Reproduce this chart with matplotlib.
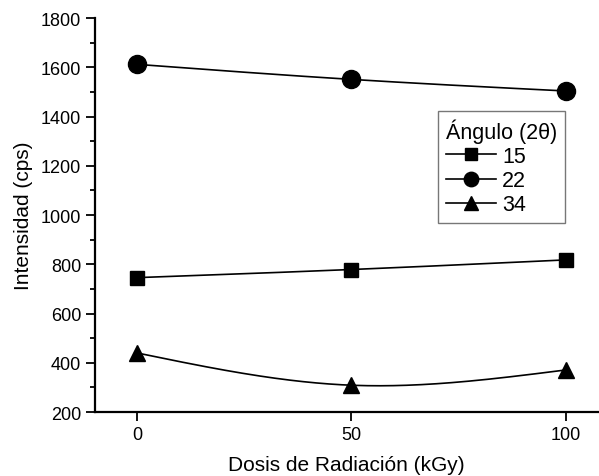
import numpy as np
import matplotlib
matplotlib.use("Agg")
import matplotlib.pyplot as plt
from matplotlib.ticker import MultipleLocator

plt.rcParams["font.family"] = ["Liberation Sans", "DejaVu Sans"]

dose = [0, 50, 100]
i15 = [746, 779, 818]
i22 = [1612, 1551, 1504]
i34 = [440, 309, 371]
series = [("15", i15, "s", 10), ("22", i22, "o", 13), ("34", i34, "^", 12)]


def natural_spline(x, y, n=200):
    # natural cubic spline, as the plotting software connects the points
    x = np.asarray(x, float)
    y = np.asarray(y, float)
    h = np.diff(x)
    k = len(x)
    A = np.zeros((k, k))
    r = np.zeros(k)
    A[0, 0] = A[-1, -1] = 1
    for i in range(1, k - 1):
        A[i, i - 1] = h[i - 1]
        A[i, i] = 2 * (h[i - 1] + h[i])
        A[i, i + 1] = h[i]
        r[i] = 6 * ((y[i + 1] - y[i]) / h[i] - (y[i] - y[i - 1]) / h[i - 1])
    M = np.linalg.solve(A, r)
    xs = np.linspace(x[0], x[-1], n)
    j = np.clip(np.searchsorted(x, xs) - 1, 0, k - 2)
    t0 = x[j + 1] - xs
    t1 = xs - x[j]
    hj = h[j]
    ys = (M[j] * t0**3 + M[j + 1] * t1**3) / (6 * hj) \
        + (y[j] / hj - M[j] * hj / 6) * t0 + (y[j + 1] / hj - M[j + 1] * hj / 6) * t1
    return xs, ys


fig = plt.figure(figsize=(5.99, 4.77), dpi=100)
ax = fig.add_axes([0.159, 0.134, 0.839, 0.826])
for label, ys, m, ms in series:
    xs, ss = natural_spline(dose, ys)
    ax.plot(xs, ss, color="black", lw=1.2)
    ax.plot(dose, ys, ls="none", marker=m, ms=ms, color="black")
    ax.plot([], [], color="black", lw=1.2, marker=m, ms=ms, label=label)

ax.set_xlim(-9.8, 107.5)
ax.set_ylim(200, 1800)
ax.set_xticks(dose)
ax.yaxis.set_major_locator(MultipleLocator(200))
ax.yaxis.set_minor_locator(MultipleLocator(100))
ax.tick_params(which="major", direction="out", length=6.5, width=1.3, labelsize=13)
ax.tick_params(which="minor", direction="out", length=3.5, width=1.3)
ax.spines[["top", "right"]].set_visible(False)
ax.spines[["left", "bottom"]].set_linewidth(1.6)
ax.set_xlabel("Dosis de Radiación (kGy)", fontsize=15, labelpad=9)
ax.set_ylabel("Intensidad (cps)", fontsize=15, labelpad=6)

leg = ax.legend(title="Ángulo (2θ)", loc="upper left", bbox_to_anchor=(0.683, 0.765),
                fontsize=15.5, title_fontsize=15.5, frameon=True, fancybox=False,
                markerscale=0.8, handlelength=2.3, handletextpad=0.3,
                labelspacing=0.15, borderpad=0.35, borderaxespad=0)
leg.get_frame().set_edgecolor("#555555")
leg.get_frame().set_linewidth(1.0)
leg._legend_box.align = "left"

fig.savefig("out.png", dpi=100)
